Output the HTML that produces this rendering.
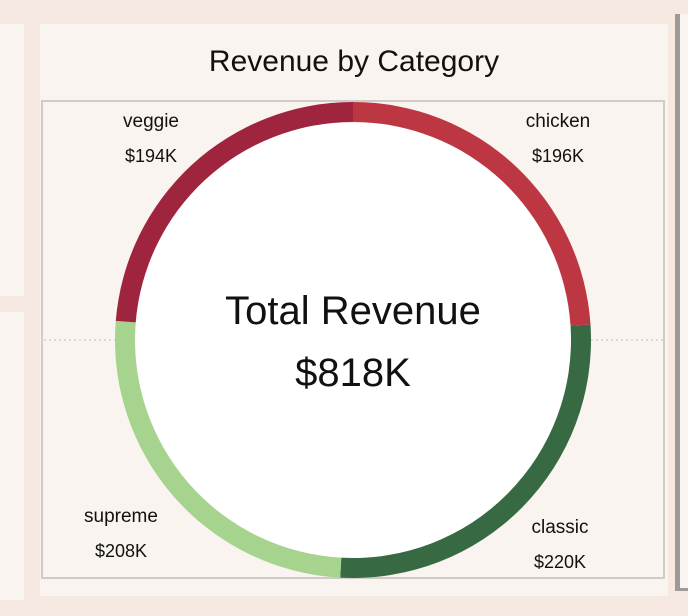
<!DOCTYPE html>
<html><head><meta charset="utf-8"><style>
body{margin:0;width:688px;height:616px;background:#f6e9e1;position:relative;overflow:hidden;font-family:"Liberation Sans",sans-serif}
.p{position:absolute;background:#faf4f0}
</style></head><body>
<div class="p" style="left:0;top:24px;width:24px;height:272px"></div>
<div class="p" style="left:0;top:312px;width:24px;height:288px"></div>
<div style="position:absolute;left:675px;top:14px;width:13px;height:577px;background:#faf4f0;border-left:5px solid #9e9a98;border-bottom:3px solid #9e9a98;box-sizing:border-box"></div>
<div class="p" style="left:40px;top:24px;width:628px;height:572px">
<div style="position:absolute;left:0;width:628px;top:21px;text-align:center;font-size:30px;color:#111">Revenue by Category</div>
<div style="position:absolute;left:1px;top:76px;width:624px;height:479px;border:2px solid #cfcbc8;box-sizing:border-box"></div>
</div>
<svg id="c" width="688" height="616" style="position:absolute;left:0;top:0"></svg>
<script>
const categories=["chicken","classic","supreme","veggie"];
const values=[196,220,208,194];
const labels=["$196K","$220K","$208K","$194K"];
const colors=["#bd3743","#376a43","#a6d48f","#9f243e"];
const NS="http://www.w3.org/2000/svg";
const svg=document.getElementById('c');
const cx=353,cy=340,R=238,r=218;
const total=values.reduce((a,b)=>a+b,0);
function pt(a,rad){return [cx+rad*Math.sin(a),cy-rad*Math.cos(a)];}
function mk(t,attrs){const e=document.createElementNS(NS,t);for(const k in attrs)e.setAttribute(k,attrs[k]);svg.appendChild(e);return e;}
const dl1=mk('line',{x1:44,y1:cy,x2:cx-R,y2:cy,stroke:'#bbb','stroke-dasharray':'2,3'});


const dl2=mk('line',{x1:cx+R,y1:cy,x2:664,y2:cy,stroke:'#bbb','stroke-dasharray':'2,3'});


mk('circle',{cx:cx,cy:cy,r:r,fill:'#fff'});
let acc=0;
const labelPos=[[558,120],[560,526],[121,515],[151,120]];
values.forEach((v,i)=>{
 const a0=acc/total*2*Math.PI;acc+=v;const a1=acc/total*2*Math.PI;
 const [x0,y0]=pt(a0,R),[x1,y1]=pt(a1,R),[x2,y2]=pt(a1,r),[x3,y3]=pt(a0,r);
 const lg=(a1-a0)>Math.PI?1:0;
 const p=mk('path',{d:`M${x0},${y0}A${R},${R} 0 ${lg} 1 ${x1},${y1}L${x2},${y2}A${r},${r} 0 ${lg} 0 ${x3},${y3}Z`,fill:colors[i]});
 
 
 const [lx,ly]=labelPos[i];
 const t=mk('text',{x:lx,y:ly+7,'text-anchor':'middle','font-size':19,fill:'#111'});t.textContent=categories[i];
 
 
 const t2=mk('text',{x:lx,y:ly+42,'text-anchor':'middle','font-size':18,fill:'#111'});t2.textContent=labels[i];
 
 
});
const c1=mk('text',{x:cx,y:324,'text-anchor':'middle','font-size':40,fill:'#111'});c1.textContent='Total Revenue';


const c2=mk('text',{x:cx,y:386,'text-anchor':'middle','font-size':40,fill:'#111'});c2.textContent='$'+total+'K';


</script>
</body></html>
